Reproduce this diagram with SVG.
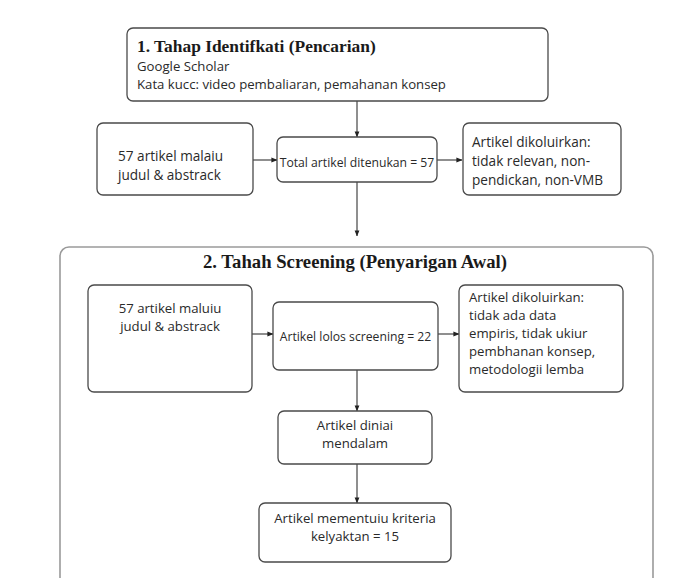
<svg xmlns="http://www.w3.org/2000/svg" width="676" height="578" viewBox="0 0 676 578">
<defs>
<style>
.box{fill:#fff;stroke:#4a4a4a;stroke-width:1.3}
.cont{fill:#fff;stroke:#9a9a9a;stroke-width:1.6}
.t{font-family:"Open Sans","Liberation Sans",sans-serif;fill:#2a2a2a}
.s12{font-size:12.2px}
.s13{font-size:13.2px}
.s14{font-size:13.6px}
.c{text-anchor:middle}
.h{font-family:"Liberation Serif","Times New Roman",serif;font-weight:bold;fill:#1a1a1a}
.ln{stroke:#333;stroke-width:1.1;fill:none;marker-end:url(#ah)}
</style>
<marker id="ah" viewBox="0 0 8 8" refX="7.5" refY="4" markerWidth="6" markerHeight="6" markerUnits="userSpaceOnUse" orient="auto">
<path d="M0,0.8 L8,4 L0,7.2 Z" fill="#222"/>
</marker>
</defs>
<rect width="676" height="578" fill="#fff"/>

<g id="stage2-container">
<rect class="cont" x="60" y="247" width="593" height="345" rx="9"/>
<text class="h c" x="355" y="268" font-size="18.7">2. Tahah Screening (Penyarigan Awal)</text>
</g>

<g id="connectors">
<line class="ln" x1="357" y1="101" x2="357" y2="137"/>
<line class="ln" x1="253" y1="160" x2="277" y2="160"/>
<line class="ln" x1="437" y1="160" x2="462" y2="160"/>
<line class="ln" x1="357" y1="182" x2="357" y2="236"/>
<line class="ln" x1="252" y1="334" x2="273" y2="334"/>
<line class="ln" x1="438" y1="334" x2="459" y2="334"/>
<line class="ln" x1="357" y1="370" x2="357" y2="411"/>
<line class="ln" x1="357" y1="464" x2="357" y2="503"/>
</g>

<g id="stage1">
<rect class="box" x="127" y="28" width="421" height="73" rx="6"/>
<text class="h" x="137" y="52" font-size="17.4">1. Tahap Identifkati (Pencarian)</text>
<text class="t s13" x="137" y="71">Google Scholar</text>
<text class="t s13" x="137" y="89">Kata kucc: video pembaliaran, pemahanan konsep</text>
</g>

<g id="source1">
<rect class="box" x="97" y="123" width="156" height="72" rx="6"/>
<text class="t s14" x="118" y="161">57 artikel malaiu</text>
<text class="t s14" x="118" y="180">judul &amp; abstrack</text>
</g>

<g id="total1">
<rect class="box" x="277" y="137" width="160" height="45" rx="6"/>
<text class="t c s12" x="357" y="167">Total artikel ditenukan = 57</text>
</g>

<g id="excluded1">
<rect class="box" x="463" y="123" width="158" height="72" rx="6"/>
<text class="t s14" x="472" y="147">Artikel dikoluirkan:</text>
<text class="t s14" x="472" y="166">tidak relevan, non-</text>
<text class="t s14" x="472" y="185">pendickan, non-VMB</text>
</g>

<g id="source2">
<rect class="box" x="88" y="285" width="164" height="107" rx="6"/>
<text class="t c s13" x="170" y="313">57 artikel maluiu</text>
<text class="t c s13" x="170" y="331">judul &amp; abstrack</text>
</g>

<g id="screened">
<rect class="box" x="273" y="302" width="165" height="68" rx="6"/>
<text class="t c s12" x="355.5" y="341">Artikel lolos screening = 22</text>
</g>

<g id="excluded2">
<rect class="box" x="459" y="285" width="164" height="107" rx="6"/>
<text class="t s13" x="469" y="302">Artikel dikoluirkan:</text>
<text class="t s13" x="469" y="320">tidak ada data</text>
<text class="t s13" x="469" y="338">empiris, tidak ukiur</text>
<text class="t s13" x="469" y="356">pembhanan konsep,</text>
<text class="t s13" x="469" y="374">metodologii lemba</text>
</g>

<g id="assessed">
<rect class="box" x="278" y="411" width="154" height="53" rx="6"/>
<text class="t c s13" x="355" y="430">Artikel diniai</text>
<text class="t c s13" x="355" y="448">mendalam</text>
</g>

<g id="eligible">
<rect class="box" x="259" y="503" width="192" height="59" rx="6"/>
<text class="t c s13" x="355" y="523">Artikel mementuiu kriteria</text>
<text class="t c s13" x="355" y="541">kelyaktan = 15</text>
</g>
</svg>
